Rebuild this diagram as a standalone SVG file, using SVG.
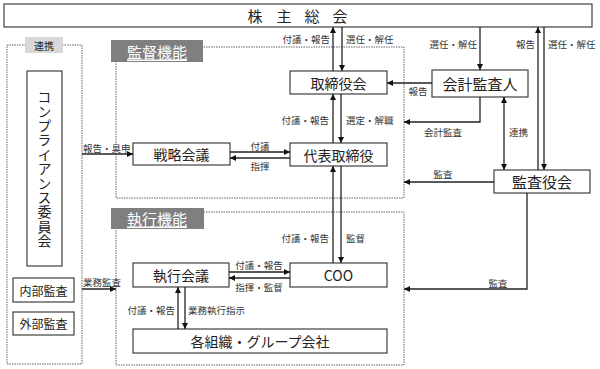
<svg xmlns="http://www.w3.org/2000/svg" width="600" height="369" viewBox="0 0 600 369">
<defs>
<marker id="ah" viewBox="0 0 10 10" refX="10" refY="5" markerWidth="6" markerHeight="6" markerUnits="userSpaceOnUse" orient="auto-start-reverse">
<path d="M0,0 L10,5 L0,10 z" fill="#111"/>
</marker>
<style>
.box{fill:#fff;stroke:#404040;stroke-width:1.2}
.zone{fill:none;stroke:#666;stroke-width:1;stroke-dasharray:1.5 1}
.t{font-family:"Noto Sans CJK JP","Liberation Sans",sans-serif;font-size:14px;fill:#222;text-anchor:middle;dominant-baseline:central}
.l{font-family:"Noto Sans CJK JP","Liberation Sans",sans-serif;font-size:9.5px;fill:#333;dominant-baseline:central}
.m{text-anchor:middle}
.e{text-anchor:end}
.c{stroke:#222;stroke-width:1.3;fill:none;marker-end:url(#ah)}
.ttl{fill:#7f7f7f}
.tt{font-family:"Noto Sans CJK JP","Liberation Sans",sans-serif;font-size:15px;fill:#fff;text-anchor:middle;dominant-baseline:central;text-decoration:underline}
</style>
</defs>
<rect width="600" height="369" fill="#fff"/>

<g id="zone-compliance">
<rect class="zone" x="7" y="45" width="75" height="319"/>
<rect x="25" y="37" width="38" height="16" fill="#d9d9d9"/>
<text class="t" x="44" y="45" style="font-size:10px">連携</text>
</g>
<g id="zone-supervision">
<rect class="zone" x="116" y="47" width="288" height="151"/>
<rect class="ttl" x="111" y="40" width="92" height="22"/>
<text class="tt" x="157" y="51">監督機能</text>
</g>
<g id="zone-execution">
<rect class="zone" x="116" y="212" width="288" height="153"/>
<rect class="ttl" x="111" y="208" width="93" height="21"/>
<text class="tt" x="157" y="218">執行機能</text>
</g>

<g id="shareholders">
<rect class="box" x="4" y="4" width="588" height="23"/>
<text class="t" style="font-size:15px" x="255 284 312 340" y="15.5">株主総会</text>
</g>
<g id="compliance">
<rect class="box" x="27" y="71" width="35" height="195"/>
<text class="t" x="44.5" y="169" style="writing-mode:vertical-rl;text-orientation:upright;letter-spacing:0.4px;dominant-baseline:auto">コンプライアンス委員会</text>
</g>
<g id="internal-audit">
<rect class="box" x="13" y="278" width="61" height="24"/>
<text class="t" style="font-size:12px" x="43.5" y="290">内部監査</text>
</g>
<g id="external-audit">
<rect class="box" x="13" y="312" width="61" height="23"/>
<text class="t" style="font-size:12px" x="43.5" y="323.5">外部監査</text>
</g>
<g id="board">
<rect class="box" x="290" y="71" width="97" height="23"/>
<text class="t" x="338.5" y="82.5">取締役会</text>
</g>
<g id="accounting-auditor">
<rect class="box" x="432" y="70" width="96" height="27"/>
<text class="t" style="font-size:15px" x="480" y="83.5">会計監査人</text>
</g>
<g id="representative">
<rect class="box" x="290" y="143" width="97" height="23"/>
<text class="t" x="338.5" y="154.5">代表取締役</text>
</g>
<g id="strategy">
<rect class="box" x="133" y="143" width="97" height="22"/>
<text class="t" x="181.5" y="154">戦略会議</text>
</g>
<g id="audit-board">
<rect class="box" x="494" y="170" width="96" height="23"/>
<text class="t" style="font-size:15px" x="542" y="181.5">監査役会</text>
</g>
<g id="exec-committee">
<rect class="box" x="133" y="263" width="96" height="24"/>
<text class="t" x="181" y="275">執行会議</text>
</g>
<g id="coo">
<rect class="box" x="290" y="263" width="97" height="24"/>
<text class="t" x="338.5" y="275">COO</text>
</g>
<g id="organizations">
<rect class="box" x="133" y="329" width="254" height="24"/>
<text class="t" x="260" y="341">各組織・グループ会社</text>
</g>

<g id="connectors">
<path class="c" d="M333,71 V27"/>
<path class="c" d="M342,27 V71"/>
<path class="c" d="M333,143 V94"/>
<path class="c" d="M341,94 V143"/>
<path class="c" d="M333,263 V166"/>
<path class="c" d="M341,166 V263"/>
<path class="c" d="M230,152 H290"/>
<path class="c" d="M290,158 H230"/>
<path class="c" d="M82,154 H133"/>
<path class="c" d="M432,83 H387"/>
<path class="c" d="M480,27 V70"/>
<path class="c" d="M480,97 V122 H404"/>
<path class="c" d="M504,97 V170" style="marker-start:url(#ah)"/>
<path class="c" d="M538,170 V27"/>
<path class="c" d="M544,27 V170"/>
<path class="c" d="M494,182 H404"/>
<path class="c" d="M527,193 V289 H404"/>
<path class="c" d="M229,272 H290"/>
<path class="c" d="M290,278 H229"/>
<path class="c" d="M178,329 V287"/>
<path class="c" d="M185,287 V329"/>
<path class="c" d="M82,289 H116"/>

<text class="l e" x="330" y="39">付議・報告</text>
<text class="l" x="346" y="39">選任・解任</text>
<text class="l e" x="329" y="120">付議・報告</text>
<text class="l" x="346" y="120">選定・解職</text>
<text class="l e" x="329" y="238">付議・報告</text>
<text class="l" x="346" y="238">監督</text>
<text class="l m" x="260" y="146">付議</text>
<text class="l m" x="260" y="166">指揮</text>
<text class="l" x="83" y="148">報告・具申</text>
<text class="l m" x="418" y="91">報告</text>
<text class="l e" x="477" y="44">選任・解任</text>
<text class="l m" x="443" y="132">会計監査</text>
<text class="l" x="509" y="132">連携</text>
<text class="l e" x="535" y="44">報告</text>
<text class="l" x="548" y="44">選任・解任</text>
<text class="l m" x="443" y="174">監査</text>
<text class="l m" x="498" y="283">監査</text>
<text class="l m" x="259" y="265">付議・報告</text>
<text class="l m" x="259" y="287">指揮・監督</text>
<text class="l e" x="175" y="310">付議・報告</text>
<text class="l" x="188" y="310">業務執行指示</text>
<text class="l" x="83" y="282">業務監査</text>
</g>
</svg>
